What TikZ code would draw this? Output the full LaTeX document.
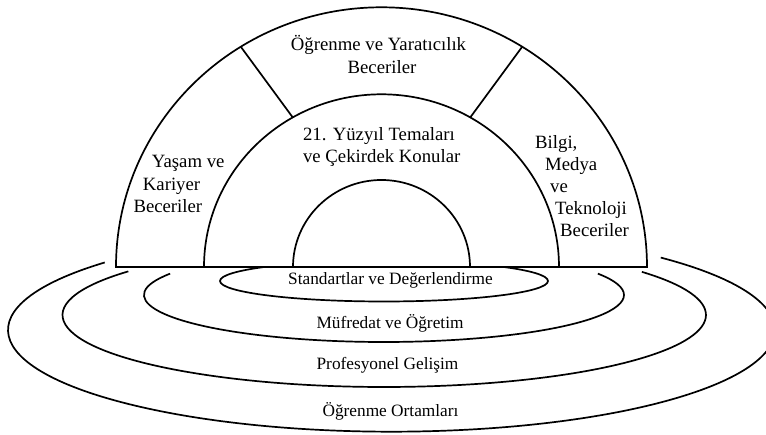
\documentclass[tikz,border=0pt]{standalone}
\usepackage{fontspec}
\setmainfont{Liberation Serif}
\begin{document}
\begin{tikzpicture}[x=1pt,y=1pt,
  line/.style={line width=1.7pt, line join=miter},
  lbl/.style={font=\fontsize{18.75}{22}\selectfont, inner sep=0pt, anchor=base},
  lbw/.style={lbl, anchor=base west},
  ring/.style={font=\fontsize{17.3}{20}\selectfont, inner sep=0pt, anchor=base}]
\clip (0,0) rectangle (766,435);
\coordinate (O) at (381.5,168);
% rings
\draw[line] (384,154) ellipse [x radius=164, y radius=20.5];
\draw[line] (384,140) ++(153:240 and 47) arc[start angle=153, end angle=387, x radius=240, y radius=47];
\draw[line] (384.25,120) ++(142.7:321.75 and 72) arc[start angle=142.7, end angle=396.8, x radius=321.75, y radius=72];
\draw[line] (391.5,105) ++(138.4:383.5 and 101.7) arc[start angle=138.4, end angle=405.4, x radius=383.5, y radius=101.7];
% dome
\fill[white] (O) ++(-265.5,0) arc[start angle=180, end angle=0, x radius=265.5, y radius=259.7] -- cycle;
\draw[line] (O) ++(-265.5,0) arc[start angle=180, end angle=0, x radius=265.5, y radius=259.7] -- cycle;
\draw[line] (O) ++(-177.5,0) arc[start angle=180, end angle=0, x radius=177.5, y radius=172.7];
\draw[line] (O) ++(-88.5,0) arc[start angle=180, end angle=0, x radius=88.5, y radius=87];
\path (O) ++(122:265.5 and 259.7) coordinate (dLo);
\path (O) ++(120:177.5 and 172.7) coordinate (dLi);
\path (O) ++(58:265.5 and 259.7) coordinate (dRo);
\path (O) ++(60:177.5 and 172.7) coordinate (dRi);
\draw[line] (dLi) -- (dLo);
\draw[line] (dRi) -- (dRo);
% dome labels
\node[lbl] (tA1) at (378.5,384) {Öğrenme ve Yaratıcılık};
\node[lbl] (tA2) at (382,361) {Beceriler};
\node[lbl] (tB1) at (379,294.3) {21. Yüzyıl Temaları};
\node[lbl] (tB2) at (381.7,272.3) {ve Çekirdek Konular};
\node[lbw] (tL1) at (151.7,267) {Yaşam ve};
\node[lbw] (tL2) at (142.7,244.3) {Kariyer};
\node[lbw] (tL3) at (133.3,222.3) {Beceriler};
\node[lbw] (tR1) at (535,286.7) {Bilgi,};
\node[lbw] (tR2) at (545,264.7) {Medya};
\node[lbw] (tR3) at (550,242.7) {ve};
\node[lbw] (tR4) at (555,220.7) {Teknoloji};
\node[lbw] (tR5) at (560,198.7) {Beceriler};
% ring labels
\node[ring] (r1) at (390.5,150) {Standartlar ve Değerlendirme};
\node[ring] (r2) at (390,106.7) {Müfredat ve Öğretim};
\node[ring] (r3) at (387.5,65) {Profesyonel Gelişim};
\node[ring] (r4) at (390.5,18.3) {Öğrenme Ortamları};
\end{tikzpicture}
\end{document}
